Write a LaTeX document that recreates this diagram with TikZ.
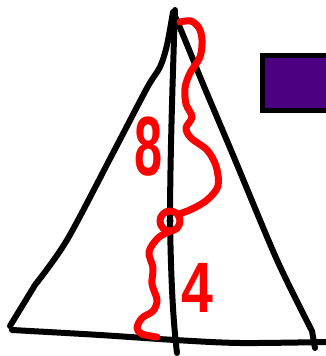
\documentclass[tikz,border=0pt]{standalone}
\usepackage{fontspec}
\setsansfont{Liberation Sans}

\begin{document}
\begin{tikzpicture}[x=1pt, y=-1pt, every node/.style={inner sep=0pt}]
  \tikzset{ink/.style={draw=black, line width=6pt, line cap=round, line join=round}}
  \tikzset{pen/.style={draw={rgb,255:red,255;green,0;blue,0}, line width=7pt, line cap=round, line join=round}}
  \tikzset{digit/.style={text={rgb,255:red,255;green,0;blue,0}, font=\sffamily\bfseries\fontsize{84}{84}\selectfont}}
  \tikzset{box/.style={draw=black, line width=5pt, fill={rgb,255:red,75;green,0;blue,130}}}
  \useasboundingbox (0,0) rectangle (326,356);
  \coordinate (apex) at (175,10);
  \coordinate (left) at (10,326);
  \coordinate (right) at (315,348);
  \coordinate (foot) at (177,353);
  \node[circle, minimum size=7pt, fill=black] (cent) at (170,221) {};
  % sides of the triangle
  \draw[ink] plot[smooth, tension=0.5] coordinates {(173,12) (167,45) (160,67) (147,88) (113,153) (67,240) (35,285)} -- (left);
  \draw[ink] plot[smooth, tension=0.5] coordinates {(176,18) (190,52) (203,84) (233,155) (277,260) (312,331)} -- (right);
  \draw[ink] plot[smooth, tension=0.5] coordinates {(12,330) (100,335) (175,340) (240,343) (326,342)};
  % median
  \draw[ink] (apex) .. controls (173,67) and (170,160) .. (cent.center)
    .. controls (171,280) and (173,320) .. (foot);
  \draw[box] (262.5,55.5) rectangle (340,110.5);
  % squiggle with lengths
  \draw[pen] plot[smooth, tension=0.55] coordinates {(180,22) (191,21) (199,28) (202,40) (200,57) (190,73) (185,88) (186,104) (192,117) (186,128) (191,138) (207,150) (216,166) (218,186) (207,200) (192,209) (179,214)};
  \draw[pen] (cent) circle (10);
  \draw[pen] plot[smooth, tension=0.55] coordinates {(170,231) (158,238) (149,252) (153,268) (152,284) (157,300) (153,311) (142,318) (137,328) (142,334) (157,337)};
  \node[digit, xscale=0.6] (eight) at (149,147) {8};
  \node[digit, xscale=0.8, scale=0.85] (four) at (197,288) {4};
\end{tikzpicture}
\end{document}
